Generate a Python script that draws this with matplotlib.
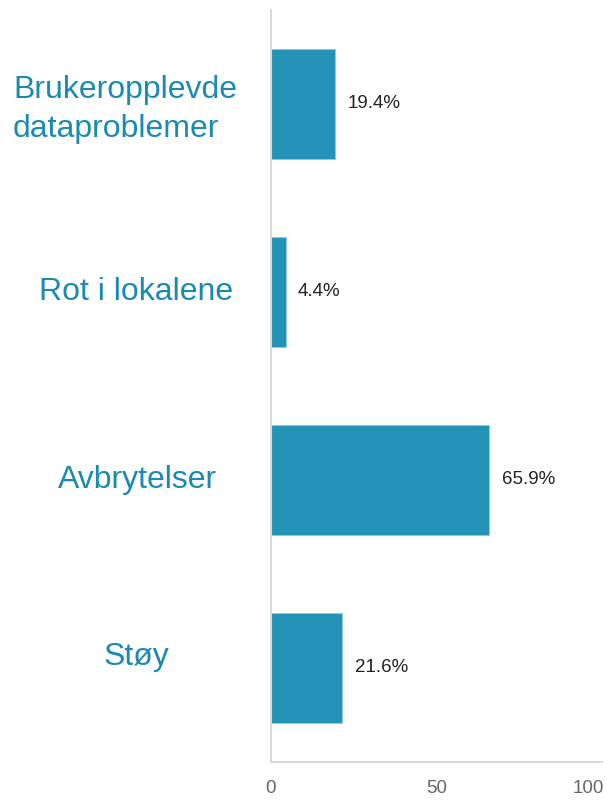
import matplotlib
matplotlib.use("Agg")
import matplotlib.pyplot as plt
import matplotlib.transforms as mtransforms

categories = ["Brukeropplevde\ndataproblemer", "Rot i lokalene", "Avbrytelser", "Støy"]
values = [19.4, 4.4, 65.9, 21.6]
value_labels = ["19.4%", "4.4%", "65.9%", "21.6%"]
xticks = [0, 50, 100]
xtick_labels = ["0", "50", "100"]

plt.rcParams['font.family'] = ['Liberation Sans', 'DejaVu Sans']

fig = plt.figure(figsize=(6.07, 8.01), dpi=100)
ax = fig.add_axes([271/607, 1 - 762/801, (602 - 271)/607, (762 - 10)/801])

ypos = list(range(len(categories)))
ax.barh(ypos, values, height=0.59, color="#2394B7", edgecolor="#8fcbe0", linewidth=0.6)
ax.set_xlim(0, 100)
ax.set_ylim(len(categories) - 0.5, -0.5)

for s in ["top", "right"]:
    ax.spines[s].set_visible(False)
for s in ["left", "bottom"]:
    ax.spines[s].set_color("#d9d9d9")
    ax.spines[s].set_linewidth(1.5)

ax.set_yticks([])
ax.set_xticks(xticks)
ax.set_xticklabels(xtick_labels, fontsize=13.5, color="#666666")
ax.tick_params(axis="x", length=0, pad=13)
lbls = ax.get_xticklabels()
lbls[-1].set_horizontalalignment("right")
offset = mtransforms.ScaledTranslation(2/100, 0, fig.dpi_scale_trans)
lbls[-1].set_transform(lbls[-1].get_transform() + offset)

for y, v, t in zip(ypos, values, value_labels):
    ax.annotate(t, xy=(v, y), xytext=(9, 0), textcoords="offset points",
                va="center", ha="left", fontsize=13.5, color="#222222")

trans = mtransforms.blended_transform_factory(fig.transFigure, ax.transData)
label_x = [125, 136, 137, 136]
label_dy = [0.03, 0.0, 0.0, -0.06]
for y, c, lx, dy in zip(ypos, categories, label_x, label_dy):
    ax.text(lx/607, y + dy, c, transform=trans, ha="center", va="center",
            multialignment="left", fontsize=23, color="#1A8AB4", linespacing=1.38,
            clip_on=False)

fig.savefig("out.png", dpi=100)
